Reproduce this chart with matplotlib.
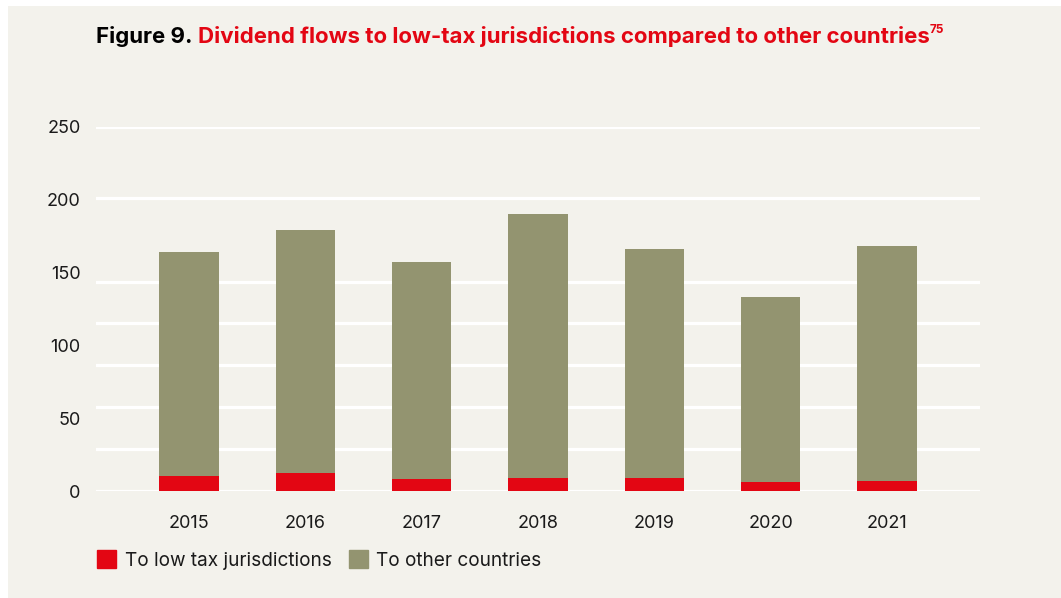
import matplotlib.pyplot as plt
from matplotlib.patches import Patch, Rectangle

# data (USD bn)
years = ['2015', '2016', '2017', '2018', '2019', '2020', '2021']
low_tax = [10.5, 12.3, 8.2, 8.9, 8.9, 6.2, 6.9]
other = [153.4, 166.7, 148.9, 181.1, 157.1, 126.8, 161.1]
y_ticks = [0, 50, 100, 150, 200, 250]
# the source draws its white grid at uneven levels
grid_levels = [0, 28.7, 57.5, 86.3, 115.0, 143.6, 201.3, 250]

BG = '#f3f2ec'
RED = '#e30613'
OLIVE = '#939470'
TXT = '#1a1a1a'

plt.rcParams['font.family'] = ['Inter', 'DejaVu Sans']

fig = plt.figure(figsize=(10.61, 5.98), dpi=100)
fig.patch.set_facecolor('white')
fig.patches.append(Rectangle((8 / 1061, 0), 1, 1 - 6 / 598, transform=fig.transFigure,
                             facecolor=BG, edgecolor='none', zorder=-10))

ax = fig.add_axes([96 / 1061, 1 - 491 / 598, 884 / 1061, 364.5 / 598])
ax.set_facecolor(BG)
ax.patch.set_alpha(0)

x = range(len(years))
ax.bar(x, low_tax, width=0.51, color=RED, zorder=3)
ax.bar(x, other, width=0.51, bottom=low_tax, color=OLIVE, zorder=3)

for g in grid_levels:
    ax.axhline(g, color='white', lw=2.3, zorder=1)

ax.set_xlim(-0.8, 6.8)
ax.set_ylim(0, 250)
ax.set_xticks(list(x))
ax.set_xticklabels(years)
ax.set_yticks(y_ticks)
ax.tick_params(length=0, labelsize=13, labelcolor=TXT)
ax.tick_params(axis='y', pad=11)
ax.tick_params(axis='x', pad=17)
for s in ax.spines.values():
    s.set_visible(False)

# legend
handles = [Patch(color=RED, label='To low tax jurisdictions'),
           Patch(color=OLIVE, label='To other countries')]
fig.legend(handles=handles, loc='center left', bbox_to_anchor=(80 / 1061, 1 - 560 / 598),
           ncol=2, frameon=False, fontsize=13.7, handlelength=1.0, handleheight=1.0,
           handletextpad=0.45, columnspacing=0.9, labelcolor=TXT)

# title: black lead-in, red body, superscript note
fig.canvas.draw()
r = fig.canvas.get_renderer()
t1 = fig.text(96 / 1061, 1 - 43 / 598, 'Figure 9. ', fontsize=16, fontweight='bold', color='black',
              va='baseline')
bb = t1.get_window_extent(r)
t2 = fig.text(bb.x1 / fig.bbox.width, 1 - 43 / 598,
              'Dividend flows to low-tax jurisdictions compared to other countries',
              fontsize=16, fontweight='bold', color=RED, va='baseline')
bb2 = t2.get_window_extent(r)
fig.text(bb2.x1 / fig.bbox.width, 1 - 33 / 598, '75', fontsize=8.5, fontweight='bold',
         color=RED, va='baseline')

fig.savefig('out.png', dpi=100, facecolor=fig.get_facecolor())
